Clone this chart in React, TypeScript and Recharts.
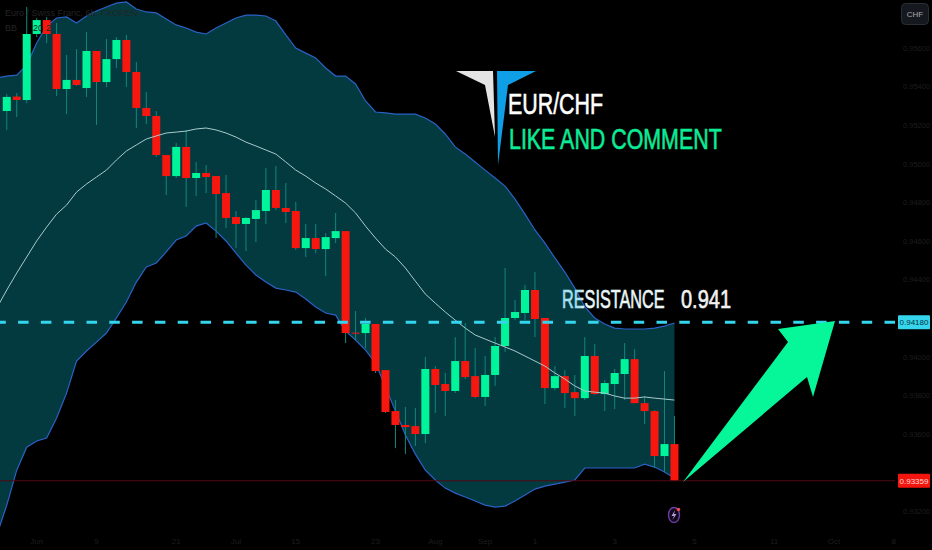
import { ComposedChart, Area, Line, Bar, XAxis, YAxis, ReferenceLine } from "recharts";

// six hour candles
const opens = [
  0.95274, 0.95349, 0.95331, 0.95673, 0.95745, 0.95673, 0.95388, 0.95435, 0.95393, 0.95585,
  0.95424, 0.95543, 0.95642, 0.95476, 0.9529, 0.95248, 0.95046, 0.94937, 0.95088, 0.94927,
  0.94953, 0.94937, 0.94849, 0.94725, 0.94689, 0.94715, 0.94756, 0.94865, 0.94772, 0.94756,
  0.94564, 0.94616, 0.94559, 0.94616, 0.94652, 0.94126, 0.94124, 0.94171, 0.93932, 0.9372,
  0.93648, 0.93642, 0.93601, 0.93938, 0.9386, 0.93824, 0.93979, 0.93901, 0.93793, 0.93907,
  0.94057, 0.94202, 0.94228, 0.94347, 0.94202, 0.93839, 0.93901, 0.93818, 0.93787, 0.94005,
  0.93808, 0.9386, 0.93912, 0.93989, 0.93761, 0.9372, 0.93487, 0.93549,
];
const closes = [
  0.95347, 0.95331, 0.95673, 0.95745, 0.95673, 0.95388, 0.95435, 0.95409, 0.95585, 0.95424,
  0.95543, 0.95642, 0.95476, 0.9529, 0.95248, 0.95046, 0.94937, 0.95088, 0.94927, 0.94953,
  0.94932, 0.94844, 0.9472, 0.94689, 0.9472, 0.94761, 0.94865, 0.94772, 0.94751, 0.94564,
  0.94616, 0.94559, 0.94621, 0.94652, 0.94124, 0.94122, 0.94171, 0.93927, 0.93715, 0.93648,
  0.93637, 0.93601, 0.93938, 0.93855, 0.93824, 0.93979, 0.93896, 0.93793, 0.93907, 0.94057,
  0.94202, 0.94233, 0.94347, 0.94197, 0.93839, 0.93901, 0.93813, 0.93787, 0.94005, 0.93808,
  0.93865, 0.93917, 0.93989, 0.93761, 0.9372, 0.93487, 0.93549, 0.93359,
];
const highs = [
  0.95362, 0.95367, 0.95813, 0.95756, 0.95761, 0.9573, 0.95564, 0.95595, 0.95683, 0.95585,
  0.95647, 0.95657, 0.95668, 0.95528, 0.95372, 0.95274, 0.95046, 0.95108, 0.95176, 0.9501,
  0.94994, 0.94937, 0.94943, 0.94756, 0.94725, 0.94813, 0.94979, 0.94989, 0.94901, 0.94803,
  0.94689, 0.94689, 0.94642, 0.94746, 0.94652, 0.94238, 0.94202, 0.94171, 0.93932, 0.93777,
  0.93741, 0.93736, 0.94, 0.93953, 0.93917, 0.94103, 0.94176, 0.94046, 0.94005, 0.94103,
  0.94461, 0.94295, 0.94373, 0.9444, 0.94202, 0.93953, 0.93932, 0.93907, 0.94103, 0.94067,
  0.93881, 0.93938, 0.94072, 0.94041, 0.93798, 0.93725, 0.93927, 0.93694,
];
const lows = [
  0.95176, 0.95243, 0.95315, 0.95657, 0.95626, 0.95352, 0.95258, 0.95404, 0.95347, 0.95202,
  0.95398, 0.95497, 0.95398, 0.95186, 0.95207, 0.95036, 0.94839, 0.94927, 0.94777, 0.94834,
  0.94849, 0.94616, 0.94668, 0.94564, 0.94549, 0.94595, 0.94689, 0.94761, 0.94694, 0.94554,
  0.94518, 0.94538, 0.94419, 0.9459, 0.94072, 0.94088, 0.94046, 0.93917, 0.9371, 0.93528,
  0.93497, 0.93539, 0.93554, 0.9371, 0.93694, 0.93813, 0.93886, 0.93787, 0.93746, 0.9385,
  0.94026, 0.94191, 0.94191, 0.94103, 0.93756, 0.93829, 0.93736, 0.93694, 0.93777, 0.93803,
  0.9372, 0.9373, 0.93777, 0.93761, 0.93653, 0.93425, 0.93404, 0.93359,
];

// bollinger bands, one extra point first so the band reaches the left edge
const bandUpper = [
  0.95445, 0.95455, 0.9546, 0.95512, 0.95626, 0.95714, 0.95756, 0.95761, 0.9573, 0.95766, 0.95792,
  0.95813, 0.95833, 0.95839, 0.95802, 0.95787, 0.95782, 0.95751, 0.9572, 0.95704, 0.95683,
  0.95673, 0.95704, 0.9573, 0.95756, 0.95771, 0.95771, 0.95766, 0.9574, 0.95668, 0.956,
  0.95574, 0.95549, 0.95497, 0.95455, 0.95455, 0.95414, 0.95326, 0.95269, 0.95264, 0.95258,
  0.95258, 0.95258, 0.95238, 0.95207, 0.95155, 0.95088, 0.95051, 0.9501, 0.94968, 0.94927,
  0.94885, 0.94818, 0.9474, 0.94658, 0.9459, 0.94513, 0.9444, 0.94357, 0.94259, 0.94202,
  0.94171, 0.9415, 0.94145, 0.94145, 0.94145, 0.9415, 0.9416, 0.94176,
];
const bandMiddle = [
  0.94254, 0.94347, 0.94435, 0.94518, 0.94601, 0.94673, 0.9474, 0.94787, 0.94854, 0.94896, 0.94932,
  0.94968, 0.9502, 0.95067, 0.95098, 0.95129, 0.95145, 0.9516, 0.95165, 0.9517, 0.95181,
  0.95186, 0.95176, 0.9516, 0.95139, 0.95113, 0.95093, 0.95072, 0.95051, 0.9501, 0.94968,
  0.94937, 0.94901, 0.9487, 0.94834, 0.94797, 0.94746, 0.94678, 0.94616, 0.94559, 0.94518,
  0.94461, 0.94393, 0.94326, 0.94279, 0.94233, 0.94191, 0.9415, 0.94114, 0.94093, 0.94072,
  0.94052, 0.94031, 0.94005, 0.93979, 0.93953, 0.93917, 0.93886, 0.9385, 0.93824, 0.93818,
  0.93813, 0.93798, 0.93787, 0.93787, 0.93793, 0.93787, 0.93782, 0.93777,
];
const bandLower = [
  0.93078, 0.93233, 0.93414, 0.93533, 0.93565, 0.9358, 0.93684, 0.93813, 0.93979, 0.94031, 0.94077,
  0.94124, 0.94202, 0.94285, 0.94388, 0.94466, 0.94487, 0.94544, 0.94606, 0.94627, 0.94678,
  0.94694, 0.94652, 0.94601, 0.94538, 0.94476, 0.94425, 0.94388, 0.94357, 0.94347, 0.94336,
  0.943, 0.94259, 0.94228, 0.94217, 0.94134, 0.94088, 0.94036, 0.93969, 0.93844, 0.9372,
  0.93596, 0.93497, 0.93414, 0.93363, 0.93321, 0.93295, 0.93275, 0.93254, 0.93233, 0.93223,
  0.93228, 0.93254, 0.93285, 0.93316, 0.93331, 0.93342, 0.93352, 0.93363, 0.93425, 0.93425,
  0.93425, 0.93425, 0.93425, 0.93425, 0.93445, 0.9343, 0.93404, 0.93373,
];

const priceTicks = [0.956, 0.954, 0.952, 0.95, 0.948, 0.946, 0.944, 0.94, 0.938, 0.936, 0.932];
const dateTickBars = [3, 9, 17, 23, 29, 37, 43, 48, 53, 61, 69, 77, 83, 89];
const dateTickLabels = ["Jun", "9", "21", "Jul", "15", "23", "Aug", "Sep", "1", "3", "5", "11", "Oct", "8"];

const resistance = 0.9418;
const lastPrice = 0.93359;

const rows = bandUpper.map((upper, n) => {
  const c = n - 1;
  return {
    bar: c,
    band: [bandLower[n], upper],
    mid: bandMiddle[n],
    range: c >= 0 ? [lows[c], highs[c]] : null,
    open: opens[c],
    close: closes[c],
    high: highs[c],
    low: lows[c],
  };
});

function Candle(props: any) {
  const { x, y, width, height, payload } = props;
  if (payload.open == null) return null;
  const perUnit = height / (payload.high - payload.low);
  const up = payload.close >= payload.open;
  const top = y + (payload.high - Math.max(payload.open, payload.close)) * perUnit;
  const bodyH = Math.abs(payload.close - payload.open) * perUnit;
  const mid = x + width / 2;
  return (
    <g>
      <line x1={mid} x2={mid} y1={y} y2={y + height} stroke="#12877c" strokeWidth={1} />
      <rect x={x} y={top} width={width} height={Math.max(bodyH, 1)} fill={up ? "#00f59a" : "#f8170f"} />
    </g>
  );
}

function PriceTag(props: any) {
  const { viewBox, text, fill, color } = props;
  const x = viewBox.x + viewBox.width + 3;
  const y = viewBox.y;
  return (
    <g>
      <rect x={x} y={y - 7} width={32} height={14} rx={1} fill={fill} />
      <text x={x + 16} y={y + 3} textAnchor="middle" fontSize={8} fill={color} fontFamily="Liberation Sans">
        {text}
      </text>
    </g>
  );
}

export default function App() {
  return (
    <div style={{ position: "fixed", left: 0, top: 0, width: 932, height: 550, background: "#000", overflow: "hidden" }}>
      <ComposedChart width={932} height={550} data={rows} margin={{ top: 0, right: 0, bottom: 0, left: 0 }}>
        <XAxis
          dataKey="bar"
          type="number"
          domain={[-0.68, 89.13]}
          allowDataOverflow
          ticks={dateTickBars}
          interval={0}
          height={20}
          axisLine={false}
          tickLine={false}
          tick={{ fill: "#1e1e1e", fontSize: 8, fontFamily: "Liberation Sans" }}
          tickFormatter={(v: number) => dateTickLabels[dateTickBars.indexOf(v)]}
        />
        <YAxis
          orientation="right"
          type="number"
          domain={[0.93104, 0.95849]}
          allowDataOverflow
          ticks={priceTicks}
          interval={0}
          width={37}
          axisLine={false}
          tickLine={false}
          tick={{ fill: "#1e1e1e", fontSize: 7.5, fontFamily: "Liberation Sans" }}
          tickFormatter={(v: number) => v.toFixed(5)}
        />
        <Area
          dataKey="band"
          type="linear"
          fill="#023a40"
          fillOpacity={1}
          stroke="#2a62c6"
          strokeWidth={1.2}
          dot={false}
          activeDot={false}
          isAnimationActive={false}
        />
        <Line dataKey="mid" type="linear" stroke="#a9cbcb" strokeWidth={1} dot={false} activeDot={false} isAnimationActive={false} />
        <ReferenceLine
          y={resistance}
          stroke="#36d5ee"
          strokeWidth={2.8}
          strokeDasharray="10.5 12.3"
          label={<PriceTag text="0.94180" fill="#36d5ee" color="#06343c" />}
        />
        <ReferenceLine
          y={lastPrice}
          stroke="#500a12"
          strokeWidth={1}
          label={<PriceTag text="0.93359" fill="#f5150f" color="#ffd9d6" />}
        />
        <Bar dataKey="range" barSize={8} shape={Candle} isAnimationActive={false} />
      </ComposedChart>

      {/* annotations drawn on top of the chart */}
      <svg width={932} height={550} style={{ position: "absolute", left: 0, top: 0, pointerEvents: "none" }}>
        <defs>
          <linearGradient id="resFill" x1="0" x2="1" y1="0" y2="0">
            <stop offset="0.17" stopColor="#a9dff0" />
            <stop offset="0.22" stopColor="#eef6f6" />
          </linearGradient>
        </defs>
        <polygon points="683,482 788,342 778,329 835,321 813,397 807,377" fill="#05f79a" />
        <polygon points="456,71 493,71 495,137 485,85" fill="#e4e4e4" />
        <polygon points="497,71 536,71 508,85 498,165" fill="#0e9fe6" />
        <g fontFamily="Liberation Sans" strokeWidth={0.6}>
          <text transform="translate(508,114) scale(0.713,1)" fontSize={30} fill="#ffffff" stroke="#ffffff">
            EUR/CHF
          </text>
          <text transform="translate(509,149) scale(0.713,1)" fontSize={30} fill="#0ceb96" stroke="#0ceb96">
            LIKE AND COMMENT
          </text>
          <text transform="translate(562,308) scale(0.65,1)" fontSize={25} fill="url(#resFill)" stroke="url(#resFill)">
            RESISTANCE
          </text>
          <text transform="translate(681,308) scale(0.8,1)" fontSize={25} fill="#f2f2f2" stroke="#f2f2f2">
            0.941
          </text>
        </g>
        <g fontFamily="Liberation Sans" fontSize={9} fill="#242424">
          <text x={5} y={16}>Euro / Swiss Franc, 6h, FXOPEN</text>
          <text x={5} y={31}>BB</text>
          <text x={33} y={31}>20</text>
          <text x={46} y={31}>2</text>
        </g>
        <rect x={901.5} y={3.5} width={27} height={21} rx={4} fill="#15191f" stroke="#2a2e35" />
        <text x={915} y={17} textAnchor="middle" fontSize={8} fill="#a8a8a8" fontFamily="Liberation Sans">CHF</text>
        <ellipse cx={674} cy={515} rx={5.5} ry={7.5} fill="#12081c" stroke="#6b3fa6" strokeWidth={1.4} />
        <polygon points="675,510 671.5,516 674,516 672.5,520 676.5,514 674,514" fill="#b79ad6" />
        <circle cx={678.5} cy={509.5} r={1.8} fill="#f04a4a" />
      </svg>
    </div>
  );
}
